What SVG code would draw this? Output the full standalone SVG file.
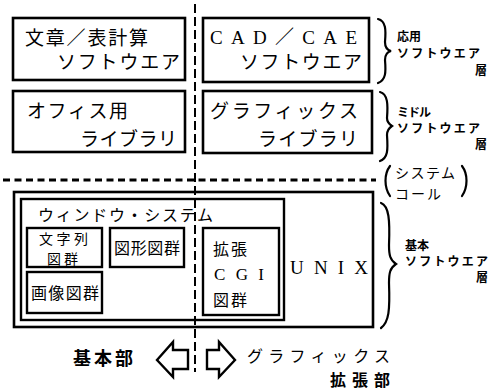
<svg xmlns="http://www.w3.org/2000/svg" width="496" height="391" viewBox="0 0 496 391">
<style>
.box{fill:none;stroke:#000;stroke-width:2.6}
.tb{fill:none;stroke:#000;stroke-width:2.4}
.t{font-family:"Noto Sans CJK JP","Noto Sans",sans-serif;font-size:19px;fill:#000}
.s{font-family:"Noto Sans CJK JP",sans-serif;font-size:12px;font-weight:bold;fill:#000}
.m{font-family:"Noto Sans CJK JP",sans-serif;font-size:16px;fill:#000}
.l{font-family:"Liberation Serif","Noto Sans CJK JP",serif;font-size:19px;fill:#000}
.b{font-family:"Noto Sans CJK JP",sans-serif;font-size:18px;font-weight:bold;fill:#000}
.br{fill:none;stroke:#000;stroke-width:2.2;stroke-linecap:round}
</style>
<rect width="496" height="391" fill="#fff"/>
<g id="connectors">
<line x1="195" y1="4" x2="195" y2="372" stroke="#000" stroke-width="2" stroke-dasharray="9,4"/>
<line x1="3" y1="180" x2="376" y2="180" stroke="#000" stroke-width="2.8" stroke-dasharray="7,4.5"/>
</g>
<g id="app-office">
<rect class="box" x="13" y="18" width="172" height="62"/>
<text class="t" x="25" y="45" textLength="123" lengthAdjust="spacing">文章／表計算</text>
<text class="t" x="57" y="69" textLength="123" lengthAdjust="spacing">ソフトウエア</text>
</g>
<g id="app-cad">
<rect class="box" x="203" y="18" width="166" height="64"/>
<text class="l" x="210" y="44" textLength="147" lengthAdjust="spacing">CAD<tspan font-family="Noto Sans CJK JP">／</tspan>CAE</text>
<text class="t" x="240" y="69" textLength="122" lengthAdjust="spacing">ソフトウエア</text>
</g>
<g id="lib-office">
<rect class="box" x="13" y="91" width="172" height="61"/>
<text class="t" x="27" y="118" textLength="101" lengthAdjust="spacing">オフィス用</text>
<text class="t" x="80" y="146" textLength="97" lengthAdjust="spacing">ライブラリ</text>
</g>
<g id="lib-graphics">
<rect class="box" x="203" y="91" width="169" height="62"/>
<text class="t" x="210" y="118" textLength="148" lengthAdjust="spacing">グラフィックス</text>
<text class="t" x="258" y="146" textLength="100" lengthAdjust="spacing">ライブラリ</text>
</g>
<g id="base">
<rect class="box" x="14" y="192" width="359" height="135"/>
<text class="l" x="290" y="274" textLength="78" lengthAdjust="spacing">UNIX</text>
</g>
<g id="window-system">
<rect class="tb" x="21" y="199" width="263" height="121"/>
<text class="m" x="38" y="221" textLength="175" lengthAdjust="spacing">ウィンドウ・システム</text>
</g>
<g id="string-group">
<rect class="tb" x="27" y="228" width="75" height="39"/>
<text class="t" x="39" y="244" style="font-size:14px" textLength="49" lengthAdjust="spacing">文字列</text>
<text class="t" x="47" y="264" style="font-size:14px" textLength="31" lengthAdjust="spacing">図群</text>
</g>
<g id="figure-group">
<rect class="tb" x="110" y="228" width="74" height="39"/>
<text class="t" x="114" y="254" style="font-size:16px" textLength="66" lengthAdjust="spacing">図形図群</text>
</g>
<g id="image-group">
<rect class="tb" x="27" y="272" width="75" height="41"/>
<text class="t" x="31" y="299" style="font-size:16px" textLength="68" lengthAdjust="spacing">画像図群</text>
</g>
<g id="cgi-group">
<rect class="tb" x="203" y="228" width="76" height="87"/>
<text class="t" x="213" y="255" style="font-size:16px" textLength="34" lengthAdjust="spacing">拡張</text>
<text class="l" x="214" y="280" style="font-size:17px" textLength="50" lengthAdjust="spacing">CGI</text>
<text class="t" x="213" y="306" style="font-size:16px" textLength="34" lengthAdjust="spacing">図群</text>
</g>
<g id="layer-app">
<path class="br" d="M378,19 C386,21 386,30 385,42 C385,47 387,50 391,51 C387,52 385,55 385,60 C386,72 386,80 378,83"/>
<text class="s" x="397" y="41">応用</text>
<text class="s" x="397" y="58" textLength="83" lengthAdjust="spacing">ソフトウエア</text>
<text class="s" x="475" y="75">層</text>
</g>
<g id="layer-middle">
<path class="br" d="M380,92 C388,94 388,105 387,118 C387,122 389,124 392,126 C389,128 387,130 387,135 C388,150 388,158 380,161"/>
<text class="s" x="397" y="117" textLength="34" lengthAdjust="spacing">ミドル</text>
<text class="s" x="397" y="133" textLength="83" lengthAdjust="spacing">ソフトウエア</text>
<text class="s" x="475" y="149">層</text>
</g>
<g id="system-call">
<path class="br" d="M390,166 C384,174 384,187 390,196"/>
<text class="t" x="395" y="178" style="font-size:14px" textLength="60" lengthAdjust="spacing">システム</text>
<text class="t" x="395" y="199" style="font-size:14px" textLength="46" lengthAdjust="spacing">コール</text>
<path class="br" d="M462,166 C468,174 468,187 462,196"/>
</g>
<g id="layer-base">
<path class="br" d="M381,203 C389,206 390,220 389,245 C389,255 390,260 396,264 C390,268 389,273 389,283 C390,310 389,322 381,328"/>
<text class="s" x="405" y="250">基本</text>
<text class="s" x="405" y="266" textLength="83" lengthAdjust="spacing">ソフトウエア</text>
<text class="s" x="476" y="282">層</text>
</g>
<g id="basic-part">
<text class="b" x="73" y="365" textLength="60" lengthAdjust="spacing">基本部</text>
<path class="tb" d="M157,360 L173,342 L173,350 L188,350 L188,369 L173,369 L173,377 Z"/>
</g>
<g id="graphics-ext">
<path class="tb" d="M235,360 L219,342 L219,350 L207,350 L207,369 L219,369 L219,377 Z"/>
<text class="t" x="247" y="362" style="font-size:16px" textLength="143" lengthAdjust="spacing">グラフィックス</text>
<text class="b" x="330" y="386" style="font-size:16px" textLength="60" lengthAdjust="spacing">拡張部</text>
</g>
</svg>
